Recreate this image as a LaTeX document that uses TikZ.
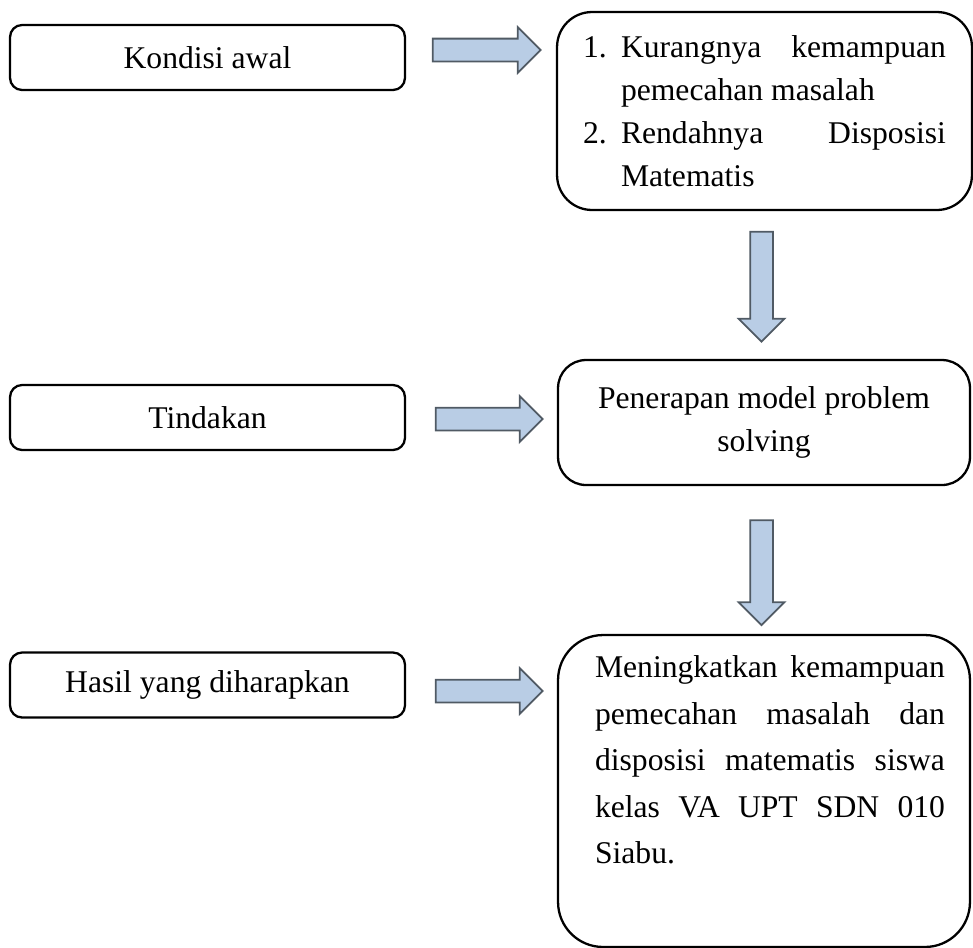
\documentclass[tikz,border=0pt]{standalone}
\usepackage{fontspec}
\setmainfont{Liberation Serif}
\usetikzlibrary{shapes,arrows}
\definecolor{arrowfill}{RGB}{185,205,229}
\definecolor{arrowline}{RGB}{80,90,100}

\begin{document}
\begin{tikzpicture}[x=0.02cm,y=-0.02cm,
    box/.style={draw, line width=1.3pt, rounded corners=0.24cm, minimum height=1.3cm, minimum width=7.9cm, font=\fontsize{18}{24.5}\selectfont},
    bigbox/.style={draw, line width=1.3pt, minimum width=8.24cm, font=\fontsize{18}{24.5}\selectfont},
    blok/.style={single arrow, draw=arrowline, fill=arrowfill, line width=1pt, inner xsep=0pt, inner ysep=0.21cm, single arrow head extend=0.23cm, single arrow tip angle=90}]
    \useasboundingbox (0,0) rectangle (973,947);
    \node [box] (kondisi) at (207.5,57.5) {Kondisi awal};
    \node [box] (tindakan) at (207.5,417.5) {Tindakan};
    \node [box] (hasil) at (207.5,685) {Hasil yang diharapkan};
    \node [bigbox, rounded corners=0.7cm, minimum width=8.3cm, minimum height=3.96cm, text width=7.26cm, align=justify] (kondisiisi) at (764.5,111)
        {\hangindent=0.76cm\hangafter=1\noindent\makebox[0.76cm][l]{1.}Kurangnya kemampuan pemecahan masalah\par
         \hangindent=0.76cm\hangafter=1\noindent\makebox[0.76cm][l]{2.}Rendahnya Disposisi Matematis\par};
    \node [bigbox, rounded corners=0.56cm, minimum height=2.5cm, align=center] (penerapan) at (764,422.5) {Penerapan model problem\\ solving};
    \node [bigbox, rounded corners=0.9cm, minimum height=6.24cm] (harapan) at (764,791) {};
    \node [text width=7cm, align=justify, font=\fontsize{18}{26.5}\selectfont] (harapanteks) at (770,760)
        {Meningkatkan kemampuan\linebreak pemecahan masalah dan\linebreak disposisi matematis siswa\linebreak kelas VA UPT SDN 010\linebreak Siabu.};
    \node [blok, minimum height=2.16cm] (panah1) at (481,50) {};
    \node [blok, minimum height=2.14cm] (panah2) at (483.5,419) {};
    \node [blok, minimum height=2.14cm] (panah3) at (483.5,691) {};
    \node [blok, minimum height=2.2cm, rotate=-90] (turun1) at (761.5,281) {};
    \node [blok, minimum height=2.1cm, rotate=-90] (turun2) at (761.5,567) {};
\end{tikzpicture}
\end{document}
